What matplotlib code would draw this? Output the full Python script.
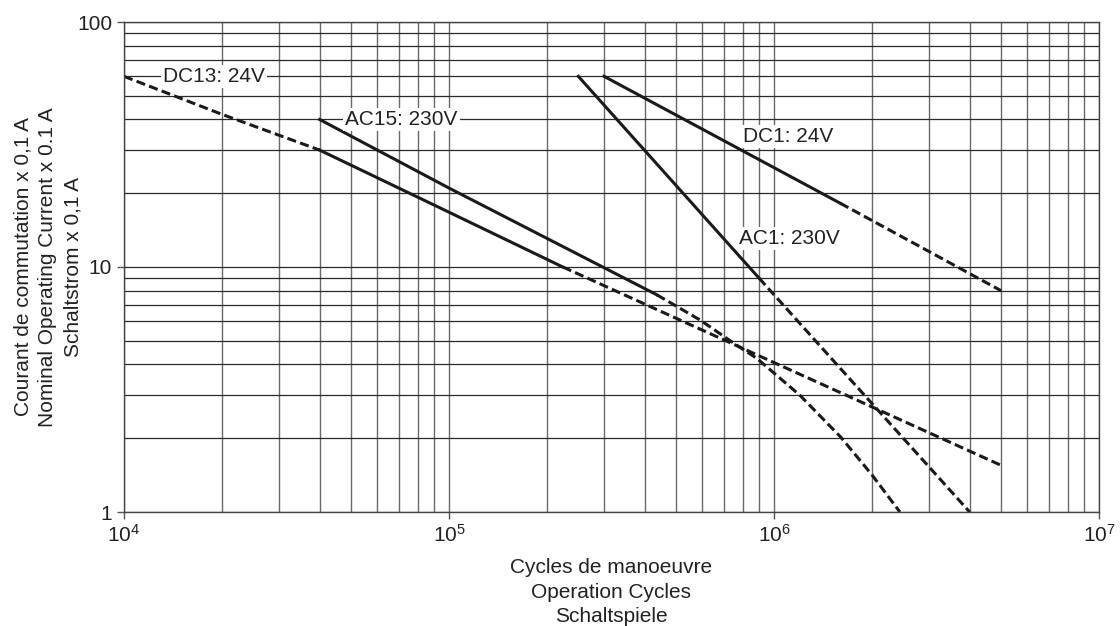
import numpy as np
import matplotlib
matplotlib.use('Agg')
import matplotlib.pyplot as plt
from matplotlib.ticker import FuncFormatter, LogLocator

plt.rcParams['font.family'] = ['Liberation Sans', 'DejaVu Sans']
plt.rcParams['mathtext.fontset'] = 'custom'
plt.rcParams['mathtext.rm'] = 'Liberation Sans'

# --- data (cycles, current x 0.1 A) ---
dc13_dash_a_x = [1e4, 2e4, 4e4]
dc13_dash_a_y = [60, 42, 30]
dc13_solid_x = [4e4, 9e4, 2.24e5]
dc13_solid_y = [30, 17.9, 10]
dc13_dash_b_x = [2.24e5, 5e6]
dc13_dash_b_y = [10, 1.55]

ac15_solid_x = [4e4, 1e5, 4.36e5]
ac15_solid_y = [40, 21, 7.7]
ac15_dash_x = [4.36e5, 5.92e5, 7.67e5, 8.85e5, 1.2e6, 1.6e6, 2e6, 2.44e6]
ac15_dash_y = [7.7, 6.08, 4.8, 4.24, 3.0, 2.03, 1.42, 1.0]

dc1_solid_x = [3e5, 1.6e6]
dc1_solid_y = [60, 18.2]
dc1_dash_x = [1.6e6, 5e6]
dc1_dash_y = [18.2, 8]

ac1_solid_x = [2.5e5, 9e5]
ac1_solid_y = [60, 9.0]
ac1_dash_x = [9e5, 4e6]
ac1_dash_y = [9.0, 1]

labels = ['DC13: 24V', 'AC15: 230V', 'DC1: 24V', 'AC1: 230V']
label_x = [1.32e4, 4.8e4, 8.0e5, 7.8e5]
label_y = [60, 40, 34, 13.1]

fig = plt.figure(figsize=(11.2, 6.26), dpi=100)
ax = fig.add_axes([124/1120, 1 - 512/626, (1099 - 124)/1120, (512 - 22)/626])

cor = '#1a1a1a'
lw = 2.2
tracejado = (0, (3, 1.4))

ax.plot(dc13_dash_a_x, dc13_dash_a_y, color=cor, lw=lw, ls=tracejado)
ax.plot(dc13_solid_x, dc13_solid_y, color=cor, lw=lw)
ax.plot(dc13_dash_b_x, dc13_dash_b_y, color=cor, lw=lw, ls=tracejado)
ax.plot(ac15_solid_x, ac15_solid_y, color=cor, lw=lw)
ax.plot(ac15_dash_x, ac15_dash_y, color=cor, lw=lw, ls=tracejado)
ax.plot(dc1_solid_x, dc1_solid_y, color=cor, lw=lw)
ax.plot(dc1_dash_x, dc1_dash_y, color=cor, lw=lw, ls=tracejado)
ax.plot(ac1_solid_x, ac1_solid_y, color=cor, lw=lw)
ax.plot(ac1_dash_x, ac1_dash_y, color=cor, lw=lw, ls=tracejado)

for txt, x, y in zip(labels, label_x, label_y):
    ax.text(x, y, txt, fontsize=15, ha='left', va='center', color='#222',
            bbox=dict(facecolor='white', edgecolor='none', pad=1.5), zorder=3)

ax.set_xscale('log')
ax.set_yscale('log')
ax.set_xlim(1e4, 1e7)
ax.set_ylim(1, 100)

ax.xaxis.set_minor_locator(LogLocator(base=10, subs=np.arange(2, 10)))
ax.yaxis.set_minor_locator(LogLocator(base=10, subs=np.arange(2, 10)))
ax.yaxis.set_major_formatter(FuncFormatter(lambda v, p: f'{v:g}'))
ax.yaxis.set_minor_formatter(FuncFormatter(lambda v, p: ''))
ax.xaxis.set_minor_formatter(FuncFormatter(lambda v, p: ''))

ax.grid(True, which='both', axis='x', color='#6a6a6a', lw=1.0)
ax.grid(True, which='both', axis='y', color='#2a2a2a', lw=0.9)

ax.tick_params(which='major', length=5, width=1, color='#555', labelsize=15,
               labelcolor='#222', direction='out')
ax.tick_params(which='minor', length=0)
for s in ax.spines.values():
    s.set_color('#444')
    s.set_linewidth(1)

# rotulos dos eixos
fig.text(48/1120, 1 - 267/626,
         'Courant de commutation x 0,1 A\nNominal Operating Current x 0.1 A\nSchaltstrom x 0,1 A',
         rotation=90, ha='center', va='center', multialignment='center',
         fontsize=15, color='#222', linespacing=1.37)
fig.text(611/1120, 1 - 592/626,
         'Cycles de manoeuvre\nOperation Cycles\nSchaltspiele',
         ha='center', va='center', multialignment='center',
         fontsize=15, color='#222', linespacing=1.37)

fig.savefig('out.png', dpi=100)
